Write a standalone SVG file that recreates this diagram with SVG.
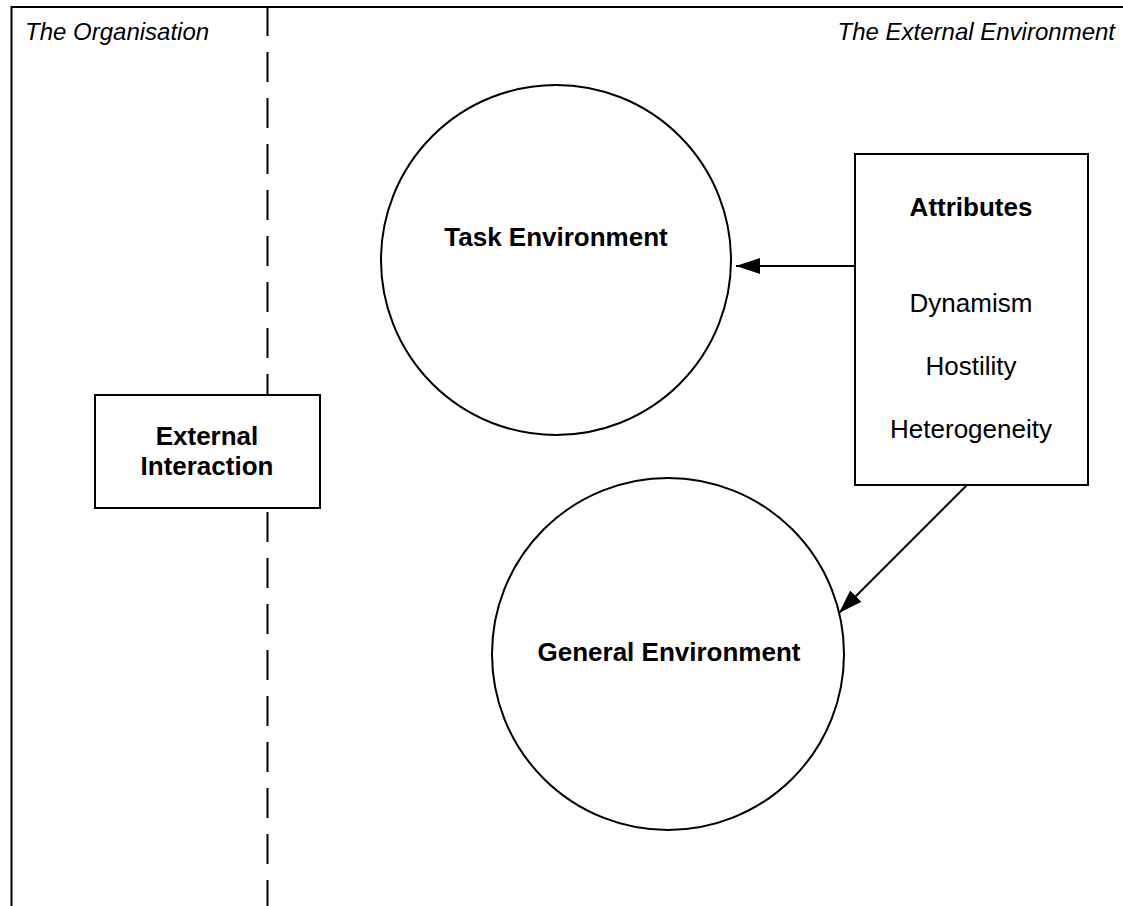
<svg xmlns="http://www.w3.org/2000/svg" width="1123" height="906" viewBox="0 0 1123 906">
  <style>
    .frame { fill: none; stroke: #000; stroke-width: 2; }
    .divider { fill: none; stroke: #000; stroke-width: 2; stroke-dasharray: 30 16; }
    .shape { fill: #fff; stroke: #000; stroke-width: 2; }
    .conn { fill: none; stroke: #000; stroke-width: 2; }
    text { font-family: "Liberation Sans", Arial, sans-serif; fill: #000; }
    .zone { font-size: 24px; font-style: italic; }
    .title { font-size: 26px; font-weight: bold; text-anchor: middle; }
    .item { font-size: 26px; text-anchor: middle; }
  </style>
  <defs>
    <marker id="arrow" markerUnits="userSpaceOnUse" markerWidth="26" markerHeight="18" refX="24" refY="8" orient="auto">
      <path d="M0,0 L24,8 L0,16 Z" fill="#000"/>
    </marker>
  </defs>

  <rect width="1123" height="906" fill="#fff"/>

  <!-- outer frame and the organisation / environment boundary -->
  <path class="frame" d="M11.5,920 V7 H1140"/>
  <line class="divider" x1="267.5" y1="6" x2="267.5" y2="920"/>

  <text class="zone" x="25" y="40">The Organisation</text>
  <text class="zone" x="1115" y="40" text-anchor="end">The External Environment</text>

  <g id="connectors">
    <line class="conn" x1="855" y1="266" x2="736" y2="266" marker-end="url(#arrow)"/>
    <line class="conn" x1="967" y1="485" x2="839" y2="613" marker-end="url(#arrow)"/>
  </g>

  <g id="task-environment">
    <circle class="shape" cx="556" cy="260" r="175"/>
    <text class="title" x="556" y="246">Task Environment</text>
  </g>

  <g id="general-environment">
    <circle class="shape" cx="668" cy="654" r="176"/>
    <text class="title" x="669" y="661">General Environment</text>
  </g>

  <g id="attributes">
    <rect class="shape" x="855" y="154" width="233" height="331"/>
    <text class="title" x="971" y="216">Attributes</text>
    <text class="item" x="971" y="312">Dynamism</text>
    <text class="item" x="971" y="375">Hostility</text>
    <text class="item" x="971" y="438">Heterogeneity</text>
  </g>

  <g id="external-interaction">
    <rect class="shape" x="95" y="395" width="225" height="113"/>
    <text class="title" x="207" y="445">External</text>
    <text class="title" x="207" y="475">Interaction</text>
  </g>
</svg>
